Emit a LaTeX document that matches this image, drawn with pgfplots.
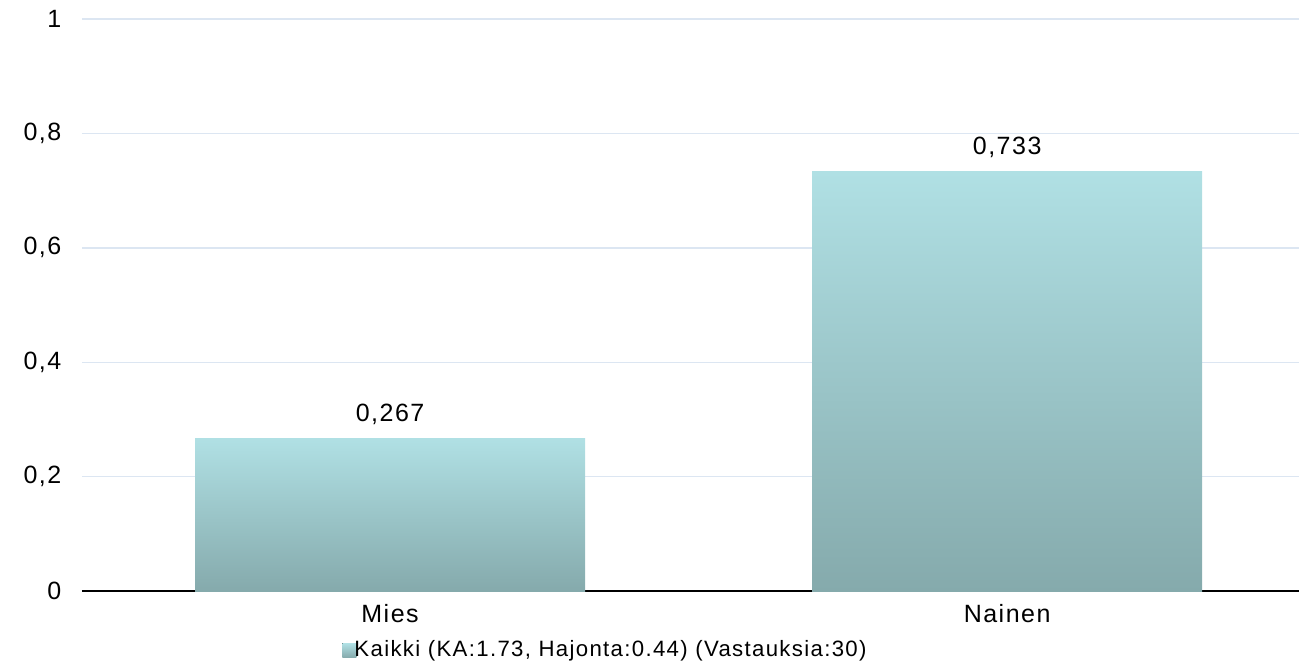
\documentclass[border=0pt]{standalone}
\usepackage{pgfplots}
\pgfplotsset{compat=1.18}
\usepackage{fontspec}
\setmainfont[LetterSpace=6]{Liberation Sans}
\definecolor{barTop}{RGB}{176,224,228}
\definecolor{barBot}{RGB}{133,170,172}
\definecolor{gridc}{RGB}{220,230,242}
\begin{document}
\fontsize{12.5}{14}\selectfont
\begin{tikzpicture}
\useasboundingbox (-41pt,-37pt) rectangle (608.5pt,295.5pt);
\begin{axis}[
  scale only axis,
  width=608.5pt, height=286pt,
  ymin=0, ymax=1,
  xmin=-0.4992, xmax=1.473,
  ybar, bar width=195pt, bar shift=0pt,
  xtick={0,1},
  xticklabels={Mies,Nainen},
  ytick={0,0.2,0.4,0.6,0.8,1},
  /pgf/number format/use comma,
  /pgf/number format/assume math mode=true,
  yticklabel style={xshift=-6pt},
  xticklabel style={yshift=2pt},
  axis x line*=bottom,
  axis y line*=left,
  y axis line style={draw=none},
  x axis line style={black, line width=1pt},
  tick style={draw=none},
  ymajorgrids,
  major grid style={color=gridc, line width=0.7pt},
  nodes near coords,
  nodes near coords style={/pgf/number format/fixed, /pgf/number format/precision=3, /pgf/number format/use comma, /pgf/number format/assume math mode=true, yshift=2.5pt},
  legend style={draw=none, fill=none, at={(0.431,-0.104)}, anchor=center, inner sep=0pt, font=\fontsize{11.1}{13}\selectfont},
  legend image code/.code={\fill[top color=barTop, bottom color=barBot] (0pt,-3.5pt) rectangle (7pt,3.5pt);},
]
\addplot[draw=none, top color=barTop, bottom color=barBot] coordinates {(0,0.267)};
\addlegendentry{\hspace{-3pt}Kaikki (KA:1.73, Hajonta:0.44) (Vastauksia:30)}
\addplot[draw=none, top color=barTop, bottom color=barBot, forget plot] coordinates {(1,0.733)};
\end{axis}
\end{tikzpicture}
\end{document}
